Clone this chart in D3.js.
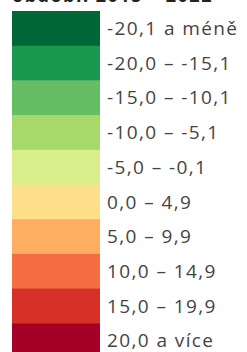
<!DOCTYPE html>
<html lang="cs">
<head>
<meta charset="UTF-8">
<title>Legenda</title>
<script src="https://cdn.jsdelivr.net/npm/d3@7"></script>
<style>
    body { margin: 0; background: #fff; }
    text { font-family: "Open Sans", sans-serif; }
</style>
</head>
<body>
<div id="legend"></div>
<script>
    const title = "období: 2015 – 2022";
    const classes = ["-20,1 a méně", "-20,0 – -15,1", "-15,0 – -10,1", "-10,0 – -5,1", "-5,0 – -0,1",
                     "0,0 – 4,9", "5,0 – 9,9", "10,0 – 14,9", "15,0 – 19,9", "20,0 a více"];
    const colors = ["#006837", "#1a9850", "#66bd63", "#a6d96a", "#d9ef8b",
                    "#fee08b", "#fdae61", "#f46d43", "#d73027", "#a50026"];

    const width = 247, height = 352;

    const svg = d3.select("#legend")
        .append("svg")
        .attr("width", width)
        .attr("height", height);

    // the title is mostly cut off at the top
    svg.append("text")
        .attr("x", 12)
        .attr("y", 1.5)
        .style("font-weight", "bold")
        .style("font-size", "18px")
        .style("letter-spacing", "1.5px")
        .style("fill", "#222")
        .text(title);

    var y = d3.scaleBand(classes, [11, 11 + 34.7 * classes.length]);

    var rows = svg.append("g")
        .selectAll("g")
        .data(classes)
        .enter()
        .append("g")
        .attr("transform", d => "translate(0," + y(d) + ")");

    rows.append("rect")
        .attr("x", 12)
        .attr("width", 88)
        .attr("height", y.bandwidth() + 0.5)
        .style("fill", (d, i) => colors[i]);

    rows.append("text")
        .attr("x", 107)
        .attr("y", y.bandwidth() / 2)
        .attr("dy", "0.35em")
        .style("font-size", "19px")
        .style("letter-spacing", "1.4px")
        .style("fill", "#444")
        .text(d => d);
</script>
</body>
</html>
